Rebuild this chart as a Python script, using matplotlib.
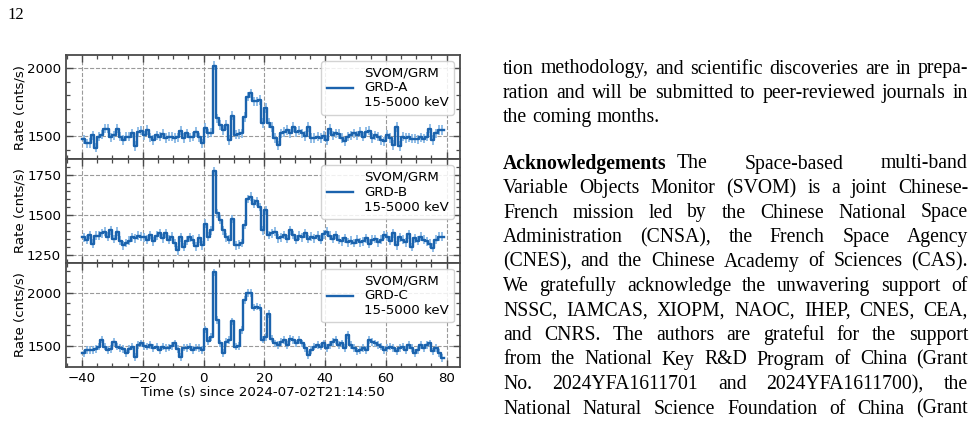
import numpy as np
import matplotlib
matplotlib.use('Agg')
import matplotlib.pyplot as plt
from matplotlib.ticker import MultipleLocator, AutoMinorLocator

# ---------------- data (1-s bins, left edges -40 ... 78) ----------------
time_edges = np.arange(-40, 80)

rate_a = [1475, 1445, 1450, 1505, 1415, 1495, 1510, 1555, 1555, 1490,
          1505, 1555, 1495, 1470, 1495, 1495, 1520, 1425, 1530, 1540,
          1505, 1545, 1490, 1470, 1505, 1495, 1515, 1485, 1495, 1495,
          1485, 1490, 1540, 1485, 1520, 1490, 1495, 1530, 1490, 1445,
          1560, 1520, 1525, 2020, 1630, 1580, 1545, 1580, 1470, 1650,
          1510, 1515, 1520, 1640, 1790, 1815, 1755, 1755, 1765, 1595,
          1705, 1595, 1565, 1485, 1430, 1520,
          1530, 1545, 1520, 1565, 1530, 1540, 1520, 1500, 1565, 1485,
          1485, 1495, 1485, 1500, 1470, 1550, 1505, 1520, 1515, 1485,
          1460, 1495, 1505, 1520, 1505, 1530, 1495, 1530, 1540, 1485,
          1505, 1495, 1470, 1460, 1510, 1485, 1435, 1565, 1425, 1495,
          1485, 1490, 1480, 1480, 1475, 1490, 1480, 1495, 1555, 1470,
          1520, 1545, 1545]

rate_b = [1360, 1345, 1375, 1320, 1370, 1370, 1385, 1395, 1365, 1405,
          1350, 1395, 1340, 1310, 1325, 1340, 1360, 1355, 1370, 1365,
          1360, 1345, 1375, 1335, 1370, 1385, 1355, 1385, 1345, 1365,
          1325, 1280, 1360, 1300, 1340, 1360, 1345, 1305, 1355, 1310,
          1445, 1365, 1405, 1775, 1510, 1470, 1405, 1360, 1345, 1475,
          1310, 1315, 1325, 1440, 1600,
          1615, 1570, 1585, 1550, 1405, 1530, 1375, 1385, 1395, 1355,
          1360, 1375, 1350, 1405, 1375, 1345, 1370, 1360, 1385, 1350,
          1365, 1355, 1370, 1345, 1380, 1395, 1370, 1350, 1375, 1345,
          1335, 1355, 1330, 1340, 1325, 1345, 1330, 1335, 1355, 1320,
          1345, 1350, 1330, 1345, 1375, 1365, 1340, 1385, 1310, 1360,
          1345, 1330, 1380, 1300, 1355, 1340, 1365, 1345, 1335, 1320,
          1295, 1345, 1365, 1365]

rate_c = [1430, 1460, 1465, 1460, 1475, 1495, 1560, 1495, 1460, 1475,
          1540, 1495, 1480, 1470, 1430, 1475, 1495, 1400, 1510, 1525,
          1500, 1495, 1510, 1480, 1495, 1465, 1495, 1480, 1485, 1500,
          1525, 1470, 1400, 1485, 1480, 1495, 1465, 1485, 1480, 1465,
          1655, 1550, 1585, 2190, 1745, 1525, 1435, 1540, 1555, 1730,
          1495, 1500, 1650, 1930, 1995,
          2000, 1860, 1870, 1860, 1560, 1585, 1800, 1570, 1525, 1510,
          1540, 1555, 1510, 1570, 1555, 1525, 1555, 1525, 1480, 1415,
          1465, 1495, 1510, 1495, 1525, 1480, 1510, 1540, 1555, 1510,
          1525, 1480, 1605, 1510, 1480, 1450, 1465, 1480, 1465, 1555,
          1540, 1525, 1510, 1495, 1465, 1480, 1495, 1480, 1450, 1480,
          1495, 1465, 1510, 1480, 1435, 1465, 1510, 1480, 1510, 1525,
          1450, 1480, 1435, 1385]

rate_err = [35, 28, 36]
detectors = ["GRD-A", "GRD-B", "GRD-C"]
band_label = "15-5000 keV"
instrument = "SVOM/GRM"
y_limits = [(1328, 2098), (1202, 1848), (1306, 2281)]
y_major = [500, 250, 500]
x_limits = (-45.3, 84.4)
x_label = "Time (s) since 2024-07-02T21:14:50"
y_label = "Rate (cnts/s)"

page_number = "12"
text_lines_1 = [
    ("tion methodology, and scientific discoveries are in prepa-", True),
    ("ration and will be submitted to peer-reviewed journals in", True),
    ("the coming months.", False),
]
text_lines_2 = [
    ("Acknowledgements The Space-based multi-band", True),
    ("Variable Objects Monitor (SVOM) is a joint Chinese-", True),
    ("French mission led by the Chinese National Space", True),
    ("Administration (CNSA), the French Space Agency", True),
    ("(CNES), and the Chinese Academy of Sciences (CAS).", True),
    ("We gratefully acknowledge the unwavering support of", True),
    ("NSSC, IAMCAS, XIOPM, NAOC, IHEP, CNES, CEA,", True),
    ("and CNRS. The authors are grateful for the support", True),
    ("from the National Key R&D Program of China (Grant", True),
    ("No. 2024YFA1611701 and 2024YFA1611700), the", True),
    ("National Natural Science Foundation of China (Grant", True),
]

# ---------------- figure ----------------
W, H = 976, 426
plt.rcParams['font.family'] = ['DejaVu Sans']
fig = plt.figure(figsize=(W / 100, H / 100), dpi=100)

line_col = '#1b63ad'
err_col = '#7fb2e3'
edge_col = '#4a4a4a'
FS_AX = 9.6

ax_left, ax_right = 66, 460
panel_tops = [55, 159.3, 262.7]
panel_bots = [159.3, 262.7, 366.7]

rates = [rate_a, rate_b, rate_c]
for i in range(3):
    l = ax_left / W
    b = 1 - panel_bots[i] / H
    w = (ax_right - ax_left) / W
    h = (panel_bots[i] - panel_tops[i]) / H
    ax = fig.add_axes([l, b, w, h])
    vals = np.array(rates[i], dtype=float)
    centers = time_edges[:-1] + 0.5
    ax.errorbar(centers, vals, yerr=rate_err[i], fmt='none', ecolor=err_col,
                elinewidth=1.4, alpha=0.85, zorder=2)
    ax.plot(time_edges, np.append(vals, vals[-1]), drawstyle='steps-post',
            color=line_col, lw=1.7, zorder=3,
            label=f"{instrument}\n{detectors[i]}\n{band_label}")
    ax.set_xlim(*x_limits)
    ax.set_ylim(*y_limits[i])
    ax.xaxis.set_major_locator(MultipleLocator(20))
    ax.xaxis.set_minor_locator(MultipleLocator(5))
    ax.yaxis.set_major_locator(MultipleLocator(y_major[i]))
    ax.yaxis.set_minor_locator(AutoMinorLocator(5))
    ax.grid(True, which='major', ls='--', color='#9a9a9a', lw=0.8, zorder=0)
    ax.tick_params(which='both', direction='in', top=True, right=True,
                   colors=edge_col, labelcolor='black', labelsize=FS_AX)
    ax.tick_params(which='major', length=5, width=1.0)
    ax.tick_params(which='minor', length=3, width=0.9)
    for s in ax.spines.values():
        s.set_color(edge_col)
        s.set_linewidth(1.3)
    ax.set_ylabel(y_label, fontsize=FS_AX, labelpad=0.5)
    if i < 2:
        ax.tick_params(labelbottom=False)
    else:
        ax.set_xlabel(x_label, fontsize=FS_AX, labelpad=1)
    ax.legend(loc='upper right', fontsize=FS_AX, framealpha=0.85,
              handlelength=2.0, borderaxespad=0.45, labelspacing=0.2)

# ---------------- page text ----------------
SERIF = ['Liberation Serif', 'DejaVu Serif']
FS_TXT = 14.2
COL_X0, COL_X1 = 503, 968
SPACE = 0.25 * FS_TXT * 100 / 72
renderer = fig.canvas.get_renderer()


def place_line(line, y_px, justify, heading=False):
    words = line.split(' ')
    texts = []
    for k, wd in enumerate(words):
        weight = 'bold' if (heading and k == 0) else 'normal'
        t = fig.text(0, 0, wd, fontsize=FS_TXT, family=SERIF, weight=weight,
                     va='baseline', ha='left', color='black')
        texts.append(t)
    widths = [t.get_window_extent(renderer).width for t in texts]
    # a heading keeps a fixed gap to the following word
    fixed = {0: 10.0} if heading else {}
    n_free = (len(words) - 1) - len(fixed)
    if justify and n_free > 0:
        gap = (COL_X1 - COL_X0 - sum(widths) - sum(fixed.values())) / n_free
    else:
        gap = SPACE
    x = COL_X0
    for k, (t, wd) in enumerate(zip(texts, widths)):
        t.set_position((x / W, 1 - y_px / H))
        x += wd + fixed.get(k, gap)


fig.text(7 / W, 1 - 19 / H, page_number, fontsize=12, family=SERIF,
         va='baseline', ha='left')

y0 = 73.5
for k, (ln, js) in enumerate(text_lines_1):
    place_line(ln, y0 + k * 24.3, js)
y1 = 168.5
for k, (ln, js) in enumerate(text_lines_2):
    place_line(ln, y1 + k * 24.5, js, heading=(k == 0))

fig.savefig('out.png', dpi=100)
